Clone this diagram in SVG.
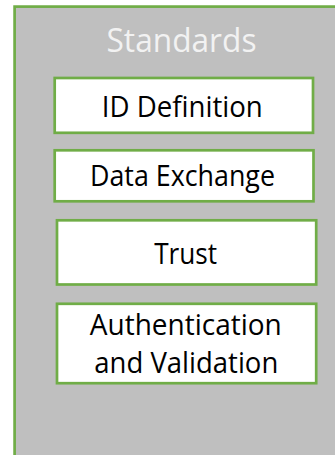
<svg xmlns="http://www.w3.org/2000/svg" width="335" height="455" viewBox="0 0 335 455">
<style>
.outer{fill:#BFBFBF;stroke:#70AD47;stroke-width:2.7}
.box{fill:#FFFFFF;stroke:#70AD47;stroke-width:2.7}
.t{font-family:"Open Sans","Noto Sans","Liberation Sans",sans-serif;font-size:29px;fill:#000000;text-anchor:middle}
.title{font-family:"Open Sans","Noto Sans","Liberation Sans",sans-serif;font-size:32.5px;fill:#F2F2F2;text-anchor:middle}
</style>
<g id="standards">
<rect class="outer" x="14.6" y="6.6" width="340" height="470"/>
<text class="title" x="181.5" y="51.5" textLength="150" lengthAdjust="spacingAndGlyphs">Standards</text>
</g>
<g id="connectors"></g>
<g id="id-definition">
<rect class="box" x="54.7" y="78" width="258.3" height="54.8"/>
<text class="t" x="182.3" y="116.5" textLength="161" lengthAdjust="spacingAndGlyphs">ID Definition</text>
</g>
<g id="data-exchange">
<rect class="box" x="54.7" y="150.3" width="258.8" height="51"/>
<text class="t" x="182.5" y="186" textLength="185" lengthAdjust="spacingAndGlyphs">Data Exchange</text>
</g>
<g id="trust">
<rect class="box" x="57" y="220.3" width="259.2" height="64.2"/>
<text class="t" x="185.7" y="263.5" textLength="63" lengthAdjust="spacingAndGlyphs">Trust</text>
</g>
<g id="authentication">
<rect class="box" x="57" y="303.8" width="259.2" height="79.4"/>
<text class="t" x="185.8" y="335" textLength="192" lengthAdjust="spacingAndGlyphs">Authentication</text>
<text class="t" x="186.3" y="372.7" textLength="184" lengthAdjust="spacingAndGlyphs">and Validation</text>
</g>
</svg>
